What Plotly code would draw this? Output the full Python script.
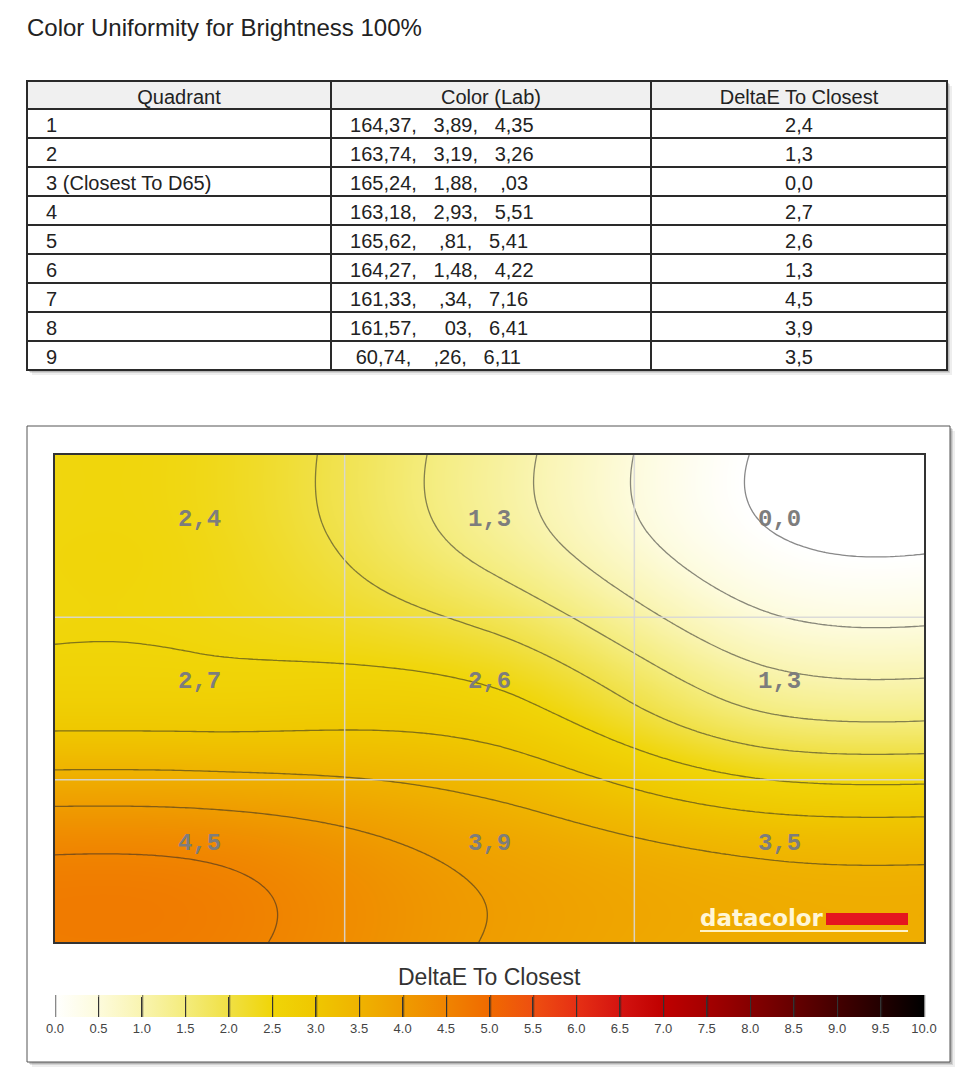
import numpy as np
import plotly.graph_objects as go

# ---------------- data ----------------
title_text = "Color Uniformity for Brightness 100%"
table_headers = ["Quadrant", "Color (Lab)", "DeltaE To Closest"]
quadrant_labels = ["1", "2", "3 (Closest To D65)", "4", "5", "6", "7", "8", "9"]
lab_L = ["164,37", "163,74", "165,24", "163,18", "165,62", "164,27", "161,33", "161,57", "60,74"]
lab_a = ["3,89", "3,19", "1,88", "2,93", ",81", "1,48", ",34", "03", ",26"]
lab_b = ["4,35", "3,26", ",03", "5,51", "5,41", "4,22", "7,16", "6,41", "6,11"]
delta_e = [2.4, 1.3, 0.0, 2.7, 2.6, 1.3, 4.5, 3.9, 3.5]
grid_cols = 3
grid_rows = 3
colorbar_title = "DeltaE To Closest"
scale_min, scale_max, scale_step = 0.0, 10.0, 0.5
scale_stops = [0.0, 0.5, 1.0, 1.5, 2.0, 2.5, 3.0, 3.5, 4.0, 4.5, 5.0,
               5.5, 6.0, 6.5, 7.0, 7.5, 8.0, 8.5, 9.0, 9.5, 10.0]
scale_colors = ["#ffffff", "#fdfbdc", "#f9f4b0", "#f4ec7c", "#f0e044", "#f0d508",
                "#efc700", "#efb300", "#ef9c00", "#f08400", "#f06a00", "#ee4f10",
                "#e63014", "#d41410", "#bf0000", "#a50000", "#860000", "#660000",
                "#440000", "#230000", "#000000"]

W, H = 962, 1080
def px(x):
    return x / W
def py(y):
    return 1 - y / H

NB = "\u00a0"
FONT = "Liberation Sans, Arial, sans-serif"
def fmt(v):
    return f"{v:.1f}".replace(".", ",")

# ---------------- table ----------------
col_q = [NB * 2 + q for q in quadrant_labels]
col_lab = []
for L, a, b in zip(lab_L, lab_a, lab_b):
    Ls = NB * (6 - len(L)) + L
    as_ = NB * (4 - len(a)) + a
    bs = NB * (4 - len(b)) + b
    col_lab.append(NB * 2 + Ls + "," + NB * 3 + as_ + "," + NB * 3 + bs)
col_de = [fmt(v) for v in delta_e]

table = go.Table(
    domain=dict(x=[px(27), px(947)], y=[py(372), py(81)]),
    columnwidth=[304, 320, 296],
    header=dict(values=table_headers, fill_color="#f0f0f0",
                line=dict(color="#2a2a2a", width=1.5),
                align="center", height=28,
                font=dict(family=FONT, size=20, color="#222")),
    cells=dict(values=[col_q, col_lab, col_de], fill_color="white",
               line=dict(color="#2a2a2a", width=1.5),
               align=["left", "left", "center"], height=29,
               font=dict(family=FONT, size=20, color="#222")),
)

# ---------------- smooth surface: bicubic (Catmull-Rom) upscaling of the 3x3 grid ----------------
def cubic_matrix(n, xs):
    """Weights of a Catmull-Rom resampler with clamped edges; node k sits at k + 0.5."""
    A = np.zeros((len(xs), n))
    u = xs - 0.5
    i = np.floor(u).astype(int)
    t = u - i
    wts = [0.5 * (-t + 2 * t ** 2 - t ** 3),
           0.5 * (2 - 5 * t ** 2 + 3 * t ** 3),
           0.5 * (t + 4 * t ** 2 - 3 * t ** 3),
           0.5 * (-t ** 2 + t ** 3)]
    rows = np.arange(len(xs))
    for k, wk in zip(range(-1, 3), wts):
        idx = np.clip(i + k, 0, n - 1)
        np.add.at(A, (rows, idx), wk)
    return A

Z = np.array(delta_e).reshape(grid_rows, grid_cols)
gx = np.linspace(0, grid_cols, 181)
gy = np.linspace(0, grid_rows, 181)
field = cubic_matrix(grid_rows, gy) @ Z @ cubic_matrix(grid_cols, gx).T

cscale = [[(s - scale_min) / (scale_max - scale_min), c] for s, c in zip(scale_stops, scale_colors)]

contour = go.Contour(
    x=gx, y=gy, z=field, xaxis="x", yaxis="y",
    zmin=scale_min, zmax=scale_max, zauto=False,
    colorscale=cscale, autocontour=False,
    contours=dict(start=0.0, end=scale_max, size=scale_step, coloring="heatmap", showlines=True),
    line=dict(color="rgba(40,40,40,0.55)", width=1.3, smoothing=1),
    hoverinfo="skip",
    colorbar=dict(
        orientation="h", x=px((55 + 924) / 2), xanchor="center",
        len=869 / W, lenmode="fraction", thickness=22, thicknessmode="pixels",
        y=py(995), yanchor="top", xpad=0, ypad=0, outlinewidth=0,
        tickmode="linear", tick0=scale_min, dtick=scale_step, tickformat=".1f",
        ticks="inside", ticklen=20, tickwidth=1.3, tickcolor="#333",
        tickfont=dict(family=FONT, size=13, color="#444"),
    ),
)

fig = go.Figure([table, contour])

cxs = np.arange(grid_cols) + 0.5
cys = np.arange(grid_rows) + 0.5
annotations = [dict(x=cxs[i % grid_cols], y=cys[i // grid_cols], xref="x", yref="y",
                    text="<b>" + fmt(v) + "</b>", showarrow=False, yshift=17,
                    font=dict(family="Liberation Mono, Courier New, monospace", size=24, color="#7d7d7d"))
               for i, v in enumerate(delta_e)]
annotations.append(dict(x=px(25), y=py(28), xref="paper", yref="paper", xanchor="left",
                        yanchor="middle", text=title_text, showarrow=False,
                        font=dict(family=FONT, size=24, color="#222")))
annotations.append(dict(x=px(489.5), y=py(977), xref="paper", yref="paper", xanchor="center",
                        yanchor="middle", text=colorbar_title, showarrow=False,
                        font=dict(family=FONT, size=23, color="#333")))
annotations.append(dict(x=px(826), y=py(918), xref="paper", yref="paper", xanchor="right",
                        yanchor="middle", text="<b>datacolor</b>", showarrow=False,
                        font=dict(family="DejaVu Sans, sans-serif", size=23, color="#fff6d6")))

shapes = []
for off, op in [(5, 0.10), (3, 0.18), (2, 0.25)]:
    shapes.append(dict(type="rect", xref="paper", yref="paper", layer="below",
                       x0=px(27 + off), x1=px(947 + off), y0=py(370 + off), y1=py(81 + off),
                       fillcolor=f"rgba(90,90,90,{op})", line=dict(width=0)))
    shapes.append(dict(type="rect", xref="paper", yref="paper", layer="below",
                       x0=px(27 + off), x1=px(950 + off), y0=py(1062 + off), y1=py(426 + off),
                       fillcolor=f"rgba(90,90,90,{op})", line=dict(width=0)))
shapes.append(dict(type="rect", xref="paper", yref="paper", layer="below",
                   x0=px(27), x1=px(950), y0=py(1062), y1=py(426),
                   fillcolor="white", line=dict(color="#555", width=1)))
for k in range(1, grid_cols):
    shapes.append(dict(type="line", xref="x", yref="y", x0=k, x1=k, y0=0, y1=grid_rows,
                       line=dict(color="rgba(215,215,215,0.9)", width=1.5), layer="above"))
for k in range(1, grid_rows):
    shapes.append(dict(type="line", xref="x", yref="y", x0=0, x1=grid_cols, y0=k, y1=k,
                       line=dict(color="rgba(215,215,215,0.9)", width=1.5), layer="above"))
shapes.append(dict(type="rect", xref="paper", yref="paper", x0=px(826), x1=px(908),
                   y0=py(925), y1=py(913), fillcolor="#e5161f", line=dict(width=0)))
shapes.append(dict(type="line", xref="paper", yref="paper", x0=px(700), x1=px(908),
                   y0=py(931), y1=py(931), line=dict(color="#fff3c8", width=2)))

fig.update_layout(
    width=W, height=H, margin=dict(l=0, r=0, t=0, b=0),
    paper_bgcolor="white", plot_bgcolor="white", showlegend=False,
    xaxis=dict(domain=[px(55), px(924)], range=[0, grid_cols], showgrid=False, zeroline=False,
               showticklabels=False, ticks="", showline=True, mirror=True,
               linecolor="#333", linewidth=1.5),
    yaxis=dict(domain=[py(942), py(455)], range=[grid_rows, 0], showgrid=False, zeroline=False,
               showticklabels=False, ticks="", showline=True, mirror=True,
               linecolor="#333", linewidth=1.5),
    annotations=annotations, shapes=shapes,
)

fig.write_html("out.html", config={"displayModeBar": False},
               post_script="document.body.style.margin='0';")
